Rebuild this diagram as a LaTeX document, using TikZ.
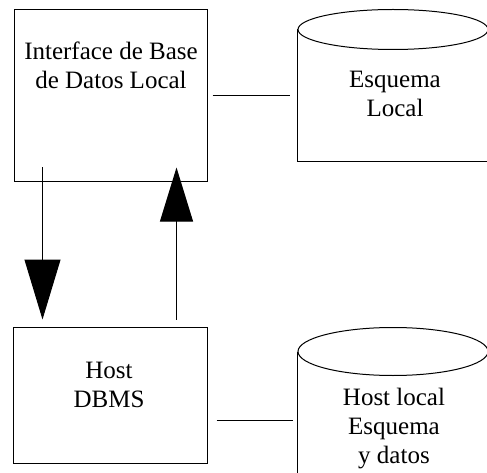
\documentclass[tikz,border=0pt]{standalone}
\usepackage{fontspec}
\setmainfont{Liberation Serif}
\usetikzlibrary{arrows.meta,calc}

\begin{document}
\begin{tikzpicture}[x=1pt,y=-1pt,
  line width=1pt,
  box/.style={draw,rectangle,inner sep=0pt},
  body/.style={rectangle,inner sep=0pt},
  txt/.style={align=center,inner sep=0pt,anchor=base,
    font=\fontsize{25}{29}\selectfont},
]
\useasboundingbox (0,0) rectangle (487,473);
\clip (0,0) rectangle (487,473);

% processing boxes
\node[box,minimum width=193pt,minimum height=172pt] (ifc) at (110.5,96) {};
\node[box,minimum width=194pt,minimum height=136pt] (host) at (110,395) {};

% storage bodies (left edge used for connections)
\node[body,minimum width=190pt,minimum height=131pt] (schema) at (393,95.5) {};
\node[body,minimum width=190pt,minimum height=130pt] (data) at (393,417) {};

% cylinder outlines
\draw (schema.north) ellipse [x radius=95, y radius=20];
\draw (schema.north west) -- (schema.south west) -- (schema.south east);
\draw (data.north) ellipse [x radius=95, y radius=24];
\draw (data.north west) -- (data.south west);

% labels (placed by the baseline of their last line)
\node[txt] (ifctext) at (111,89) {Interface de Base\\de Datos Local};
\node[txt] (schematext) at (395,117) {Esquema\\Local};
\node[txt] (hosttext) at (109,407) {Host\\DBMS};
\node[txt] (datatext) at (394,463) {Host local\\Esquema\\y datos};

% links between boxes and storage
\draw[shorten <=5pt,shorten >=8pt] (ifc.east) -- (ifc.east -| schema.west);
\coordinate (hostlink) at ($(host.east)+(0,25)$);
\draw[shorten <=9pt,shorten >=5pt] (hostlink) -- (hostlink -| data.west);

% request / response arrows
\coordinate (downstart) at ($(ifc.south west)+(29,-15)$);
\coordinate (downend) at ($(host.north west)+(30,-7)$);
\coordinate (upstart) at ($(host.north west)+(164,-7)$);
\coordinate (upend) at ($(ifc.south west)+(163,-15)$);
\draw[-{Triangle[length=60pt,width=36pt]}] (downstart) -- (downend);
\draw[-{Triangle[length=54pt,width=33pt]}] (upstart) -- (upend);
\end{tikzpicture}
\end{document}
